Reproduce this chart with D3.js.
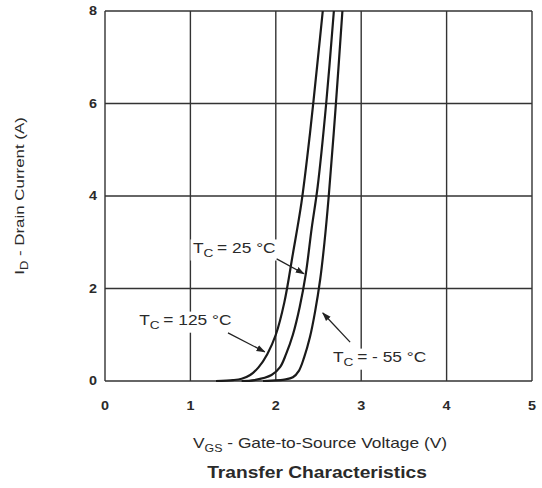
<!DOCTYPE html>
<html>
<head>
<meta charset="utf-8">
<script src="https://cdn.jsdelivr.net/npm/d3@7"></script>
<style>
  body { margin: 0; background: #fff; }
  text { font-family: "Liberation Sans", Arial, sans-serif; fill: #2a2a2a; }
</style>
</head>
<body>
<script>
// [Vgs (V), Id (A)]
var curve125 = [[1.3,0],[1.5,0.02],[1.6,0.05],[1.7,0.13],[1.8,0.3],[1.9,0.58],[2.0,1.0],[2.1,1.7],[2.2,2.75],[2.3,3.85],[2.4,5.35],[2.5,7.1],[2.55,8.0]];
var curve25 = [[1.6,0],[1.75,0.02],[1.95,0.13],[2.05,0.3],[2.12,0.58],[2.2,1.0],[2.28,1.6],[2.35,2.3],[2.42,3.3],[2.49,4.2],[2.59,6.0],[2.68,8.0]];
var curveM55 = [[1.85,0],[1.95,0.01],[2.1,0.03],[2.2,0.08],[2.27,0.22],[2.33,0.5],[2.4,0.95],[2.46,1.5],[2.52,2.2],[2.57,3.0],[2.62,4.0],[2.7,5.9],[2.78,8.0]];

var xTicks = [0, 1, 2, 3, 4, 5];
var yTicks = [0, 2, 4, 6, 8];

// annotation labels and arrows in data units
var labels = [
  { temp: '25', x: 1.03, y: 2.77, ax: [2.01, 2.64], bx: [2.33, 2.32] },
  { temp: '125', x: 0.4, y: 1.21, ax: [1.44, 1.04], bx: [1.87, 0.63] },
  { temp: '- 55', x: 2.67, y: 0.41, ax: [2.87, 0.84], bx: [2.55, 1.47] }
];

var width = 542, height = 488;
var margin = { left: 105, right: 10, top: 11, bottom: 107 };
var stretch = 1.24; // the scan's text is wider than plain Arial

var svg = d3.select('body').append('svg').attr('width', width).attr('height', height);

var x = d3.scaleLinear().domain([0, 5]).range([margin.left, width - margin.right]);
var y = d3.scaleLinear().domain([0, 8]).range([height - margin.bottom, margin.top]);

function place(px, py, rot, sx) {
    return 'translate(' + px + ',' + py + ')' + (rot ? ' rotate(' + rot + ')' : '') + ' scale(' + sx + ',1)';
}

var defs = svg.append('defs');
defs.append('marker')
    .attr('id', 'arrow')
    .attr('viewBox', '0 0 10 10')
    .attr('refX', 9).attr('refY', 5)
    .attr('markerWidth', 9).attr('markerHeight', 9)
    .attr('markerUnits', 'userSpaceOnUse')
    .attr('orient', 'auto')
    .append('path').attr('d', 'M0,1.5L10,5L0,8.5Z').attr('fill', '#222');

// grid
var grid = svg.append('g').attr('stroke', '#333').attr('stroke-width', 1.4);
grid.selectAll('.vx').data(xTicks).enter().append('line')
    .attr('x1', function (d) { return x(d); }).attr('x2', function (d) { return x(d); })
    .attr('y1', y(0)).attr('y2', y(8));
grid.selectAll('.hy').data(yTicks).enter().append('line')
    .attr('y1', function (d) { return y(d); }).attr('y2', function (d) { return y(d); })
    .attr('x1', x(0)).attr('x2', x(5));

// tick labels
svg.selectAll('.xt').data(xTicks).enter().append('text')
    .attr('transform', function (d) { return place(x(d), y(0) + 29, 0, 1.2); })
    .attr('text-anchor', 'middle')
    .attr('font-size', 12).attr('font-weight', 'bold')
    .text(function (d) { return d; });
svg.selectAll('.yt').data(yTicks).enter().append('text')
    .attr('transform', function (d) { return place(x(0) - 8, y(d) + 4, 0, 1.2); })
    .attr('text-anchor', 'end')
    .attr('font-size', 12).attr('font-weight', 'bold')
    .text(function (d) { return d; });

// curves
var line = d3.line()
    .x(function (d) { return x(d[0]); })
    .y(function (d) { return y(d[1]); })
    .curve(d3.curveCatmullRom.alpha(0.5));

svg.selectAll('.curve').data([curve125, curve25, curveM55]).enter().append('path')
    .attr('d', line)
    .attr('fill', 'none')
    .attr('stroke', '#1a1a1a')
    .attr('stroke-width', 2.2);

// labels with white backing so grid lines break behind them
var lab = svg.selectAll('.lab').data(labels).enter().append('g');
lab.each(function (d) {
    var g = d3.select(this).attr('transform', place(x(d.x), y(d.y), 0, stretch));
    var t = g.append('text').attr('font-size', 14);
    t.append('tspan').text('T');
    t.append('tspan').attr('font-size', 11).attr('dy', 4).text('C');
    t.append('tspan').attr('dy', -4).attr('dx', 3).text('= ' + d.temp + ' \u00B0C');
    var bb = t.node().getBBox();
    g.insert('rect', 'text')
        .attr('x', bb.x - 2).attr('y', bb.y - 1)
        .attr('width', bb.width + 4).attr('height', bb.height + 2)
        .attr('fill', '#fff');
    svg.append('line')
        .attr('x1', x(d.ax[0])).attr('y1', y(d.ax[1]))
        .attr('x2', x(d.bx[0])).attr('y2', y(d.bx[1]))
        .attr('stroke', '#222').attr('stroke-width', 1.3)
        .attr('marker-end', 'url(#arrow)');
});

// axis titles
var xt = svg.append('text')
    .attr('transform', place(320, 448, 0, stretch))
    .attr('text-anchor', 'middle')
    .attr('font-size', 14);
xt.append('tspan').text('V');
xt.append('tspan').attr('font-size', 10).attr('dy', 4).text('GS');
xt.append('tspan').attr('dy', -4).text(' - Gate-to-Source Voltage (V)');

svg.append('text')
    .attr('transform', place(317, 478, 0, 1.2))
    .attr('text-anchor', 'middle')
    .attr('font-size', 16).attr('font-weight', 'bold')
    .attr('fill', '#222')
    .text('Transfer Characteristics');

var yt = svg.append('text')
    .attr('transform', place(24, (y(0) + y(8)) / 2, -90, 1.3))
    .attr('text-anchor', 'middle')
    .attr('font-size', 13);
yt.append('tspan').text('I');
yt.append('tspan').attr('font-size', 10).attr('dy', 4).text('D');
yt.append('tspan').attr('dy', -4).text(' - Drain Current (A)');
</script>
</body>
</html>
